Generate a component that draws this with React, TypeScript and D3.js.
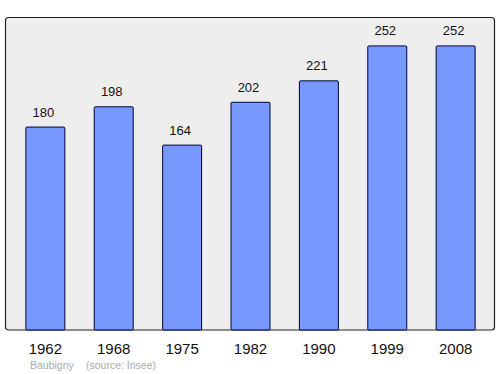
import React from "react";
import * as d3 from "d3";

const years = ["1962", "1968", "1975", "1982", "1990", "1999", "2008"];
const population = [180, 198, 164, 202, 221, 252, 252];
const footerName = "Baubigny";
const footerSource = "(source: Insee)";

export default function App() {
  const W = 500, H = 374;
  const panel = { x: 5.5, y: 17.5, w: 489, h: 312.5 };
  const baseline = 330;
  const x = d3.scaleBand<string>().domain(years).range([11.5, 489.5]).paddingInner(0.43).paddingOuter(0.21);
  const y = d3.scaleLinear().domain([0, 252 * 1.1]).range([baseline, 17.5]);
  const font = "Liberation Sans, Arial, sans-serif";
  return (
    <svg width={W} height={H} style={{ position: "absolute", left: 0, top: 0 }}>
      <rect x={panel.x} y={panel.y} width={panel.w} height={panel.h} rx={3} fill="#eeeeee" stroke="#222" strokeWidth={1.2} />
      {population.map((v, i) => {
        const bx = x(years[i])!;
        return (
          <g key={years[i]}>
            <rect x={bx} y={y(v)} width={x.bandwidth()} height={baseline - y(v)} fill="#7799ff" stroke="#000033" strokeWidth={1} rx={1} />
            <text x={bx + x.bandwidth() / 2 - 2} y={y(v) - 10.5} textAnchor="middle" fontFamily={font} fontSize={13} fill="#111">{v}</text>
            <text x={bx + x.bandwidth() / 2} y={353.5} textAnchor="middle" fontFamily={font} fontSize={15} fill="#111">{years[i]}</text>
          </g>
        );
      })}
      <text x={30} y={369} fontFamily={font} fontSize={10.5} fill="#aaaaaa">{footerName}</text>
      <text x={86} y={369} fontFamily={font} fontSize={10.5} fill="#aaaaaa">{footerSource}</text>
    </svg>
  );
}
